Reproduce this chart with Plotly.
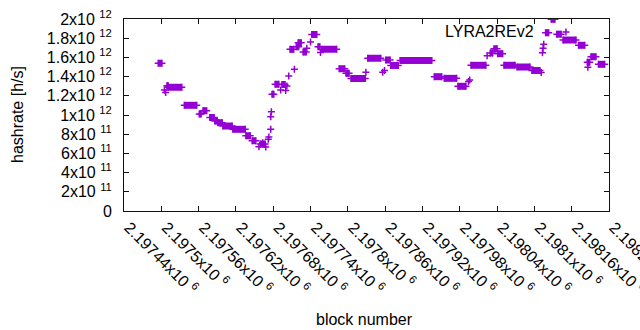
import plotly.graph_objects as go

# Runs of consecutive blocks sharing the same hashrate estimate
run_start = [2197495, 2197505, 2197507, 2197509, 2197511, 2197537, 2197561, 2197567, 2197578, 2197586,
             2197591, 2197599, 2197615, 2197636, 2197646, 2197657, 2197659, 2197663, 2197668, 2197672,
             2197673, 2197676, 2197676, 2197677, 2197678, 2197683, 2197692, 2197694, 2197700, 2197702,
             2197705, 2197707, 2197714, 2197717, 2197720, 2197728, 2197734, 2197740, 2197742, 2197752,
             2197756, 2197758, 2197786, 2197797, 2197805, 2197829, 2197832, 2197856, 2197859, 2197861,
             2197869, 2197884, 2197939, 2197955, 2197977, 2197994, 2197996, 2197998, 2198024, 2198029,
             2198035, 2198041, 2198051, 2198072, 2198096, 2198111, 2198113, 2198114, 2198115, 2198118,
             2198127, 2198136, 2198146, 2198171, 2198185, 2198186, 2198191, 2198203]
run_end = [2197501, 2197505, 2197507, 2197511, 2197533, 2197557, 2197564, 2197573, 2197585, 2197590,
           2197598, 2197614, 2197635, 2197643, 2197652, 2197657, 2197667, 2197663, 2197668, 2197672,
           2197673, 2197676, 2197676, 2197677, 2197681, 2197689, 2197692, 2197699, 2197700, 2197702,
           2197705, 2197713, 2197714, 2197721, 2197725, 2197733, 2197734, 2197740, 2197750, 2197755,
           2197756, 2197782, 2197795, 2197802, 2197828, 2197829, 2197853, 2197856, 2197859, 2197868,
           2197881, 2197935, 2197951, 2197975, 2197990, 2197994, 2197996, 2198022, 2198024, 2198033,
           2198040, 2198049, 2198069, 2198093, 2198109, 2198111, 2198113, 2198114, 2198115, 2198123,
           2198133, 2198143, 2198167, 2198181, 2198189, 2198186, 2198199, 2198213]
hashrate_e12 = [1.539, 1.260, 1.234, 1.305, 1.289, 1.101, 1.010, 1.045, 0.974, 0.938,
                0.920, 0.885, 0.851, 0.784, 0.732, 0.670, 0.698, 0.711, 0.667, 0.747,
                0.771, 0.851, 0.982, 1.034, 1.217, 1.320, 1.260, 1.318, 1.255, 1.302,
                1.406, 1.684, 1.476, 1.711, 1.753, 1.656, 1.695, 1.760, 1.839, 1.711,
                1.651, 1.685, 1.482, 1.434, 1.380, 1.445, 1.591, 1.445, 1.464, 1.573,
                1.516, 1.568, 1.399, 1.382, 1.299, 1.349, 1.365, 1.518, 1.618, 1.646,
                1.690, 1.639, 1.518, 1.500, 1.464, 1.443, 1.649, 1.695, 1.736, 1.857,
                1.997, 1.842, 1.781, 1.726, 1.550, 1.497, 1.607, 1.528]

x_tickvals = [2197440, 2197500, 2197560, 2197620, 2197680, 2197740, 2197800,
              2197860, 2197920, 2197980, 2198040, 2198100, 2198160, 2198220]
x_ticktext = ["2.19744x10 <sup>6</sup>", "2.1975x10 <sup>6</sup>", "2.19756x10 <sup>6</sup>",
              "2.19762x10 <sup>6</sup>", "2.19768x10 <sup>6</sup>", "2.19774x10 <sup>6</sup>",
              "2.1978x10 <sup>6</sup>", "2.19786x10 <sup>6</sup>", "2.19792x10 <sup>6</sup>",
              "2.19798x10 <sup>6</sup>", "2.19804x10 <sup>6</sup>", "2.1981x10 <sup>6</sup>",
              "2.19816x10 <sup>6</sup>", "2.19822x10 <sup>6</sup>"]
y_tickvals = [0, 2e11, 4e11, 6e11, 8e11, 1e12, 1.2e12, 1.4e12, 1.6e12, 1.8e12, 2e12]
y_ticktext = ["0", "2x10 <sup>11</sup>", "4x10 <sup>11</sup>", "6x10 <sup>11</sup>",
              "8x10 <sup>11</sup>", "1x10 <sup>12</sup>", "1.2x10 <sup>12</sup>",
              "1.4x10 <sup>12</sup>", "1.6x10 <sup>12</sup>", "1.8x10 <sup>12</sup>",
              "2x10 <sup>12</sup>"]

X_RANGE = [2197440, 2198220]
Y_RANGE = [0, 2e12]

COLOR = "#9400D3"
FRAME = "#111111"
FONT = "Liberation Sans"
W, H = 640, 330
ML, MR, MT, MB = 124, 31, 19, 119
PLOT_W, PLOT_H = W - ML - MR, H - MT - MB

seg_x, seg_y, pt_x, pt_y = [], [], [], []
for s, e, v in zip(run_start, run_end, hashrate_e12):
    val = v * 1e12
    pt_x.append(s); pt_y.append(val)
    if e != s:
        pt_x.append(e); pt_y.append(val)
        seg_x += [s, e, None]
        seg_y += [val, val, None]

fig = go.Figure()
fig.add_trace(go.Scatter(x=seg_x, y=seg_y, mode="lines",
                         line=dict(color=COLOR, width=7), showlegend=False,
                         hoverinfo="skip"))
fig.add_trace(go.Scatter(x=pt_x, y=pt_y, mode="markers", name=" ",
                         marker=dict(symbol="cross-thin", size=5, color=COLOR,
                                     line=dict(color=COLOR, width=1.5)),
                         showlegend=True))

axis_common = dict(showline=True, linecolor=FRAME, linewidth=1, mirror="allticks",
                   ticks="inside", ticklen=5, tickcolor=FRAME, tickwidth=1,
                   showgrid=False, zeroline=False,
                   tickfont=dict(family=FONT, size=16, color="black"))

fig.update_layout(
    width=W, height=H,
    margin=dict(l=ML, r=MR, t=MT, b=MB, autoexpand=False),
    paper_bgcolor="white", plot_bgcolor="white",
    font=dict(family=FONT, size=16, color="black"),
    xaxis=dict(range=X_RANGE, tickmode="array", tickvals=x_tickvals,
               ticktext=x_ticktext, tickangle=45, automargin=False,
               ticklabeloverflow="allow", ticklabelshift=5, **axis_common),
    yaxis=dict(range=Y_RANGE, tickmode="array", tickvals=y_tickvals,
               ticktext=y_ticktext, automargin=False, ticklabelstandoff=8,
               ticklabeloverflow="allow", **axis_common),
    legend=dict(x=0.870, y=0.932, xanchor="left", yanchor="middle",
                bgcolor="rgba(0,0,0,0)", borderwidth=0, font=dict(size=16)),
    annotations=[
        dict(text="hashrate [h/s]", xref="paper", yref="paper", x=(17 - ML) / PLOT_W, y=0.5,
             textangle=-90, showarrow=False, xanchor="center", yanchor="middle",
             font=dict(family=FONT, size=16, color="black")),
        dict(text="block number", xref="paper", yref="paper", x=0.495, y=(211 - 319) / PLOT_H,
             showarrow=False, xanchor="center", yanchor="middle",
             font=dict(family=FONT, size=16, color="black")),
        dict(text="LYRA2REv2", xref="paper", yref="paper", x=(536 - ML) / PLOT_W,
             y=(211 - 31) / PLOT_H, showarrow=False, xanchor="right", yanchor="middle",
             font=dict(family=FONT, size=16, color="black")),
    ],
)

post = "document.body.style.margin='0';document.body.style.padding='0';"
fig.write_html("out.html", config={"displayModeBar": False}, post_script=post)
